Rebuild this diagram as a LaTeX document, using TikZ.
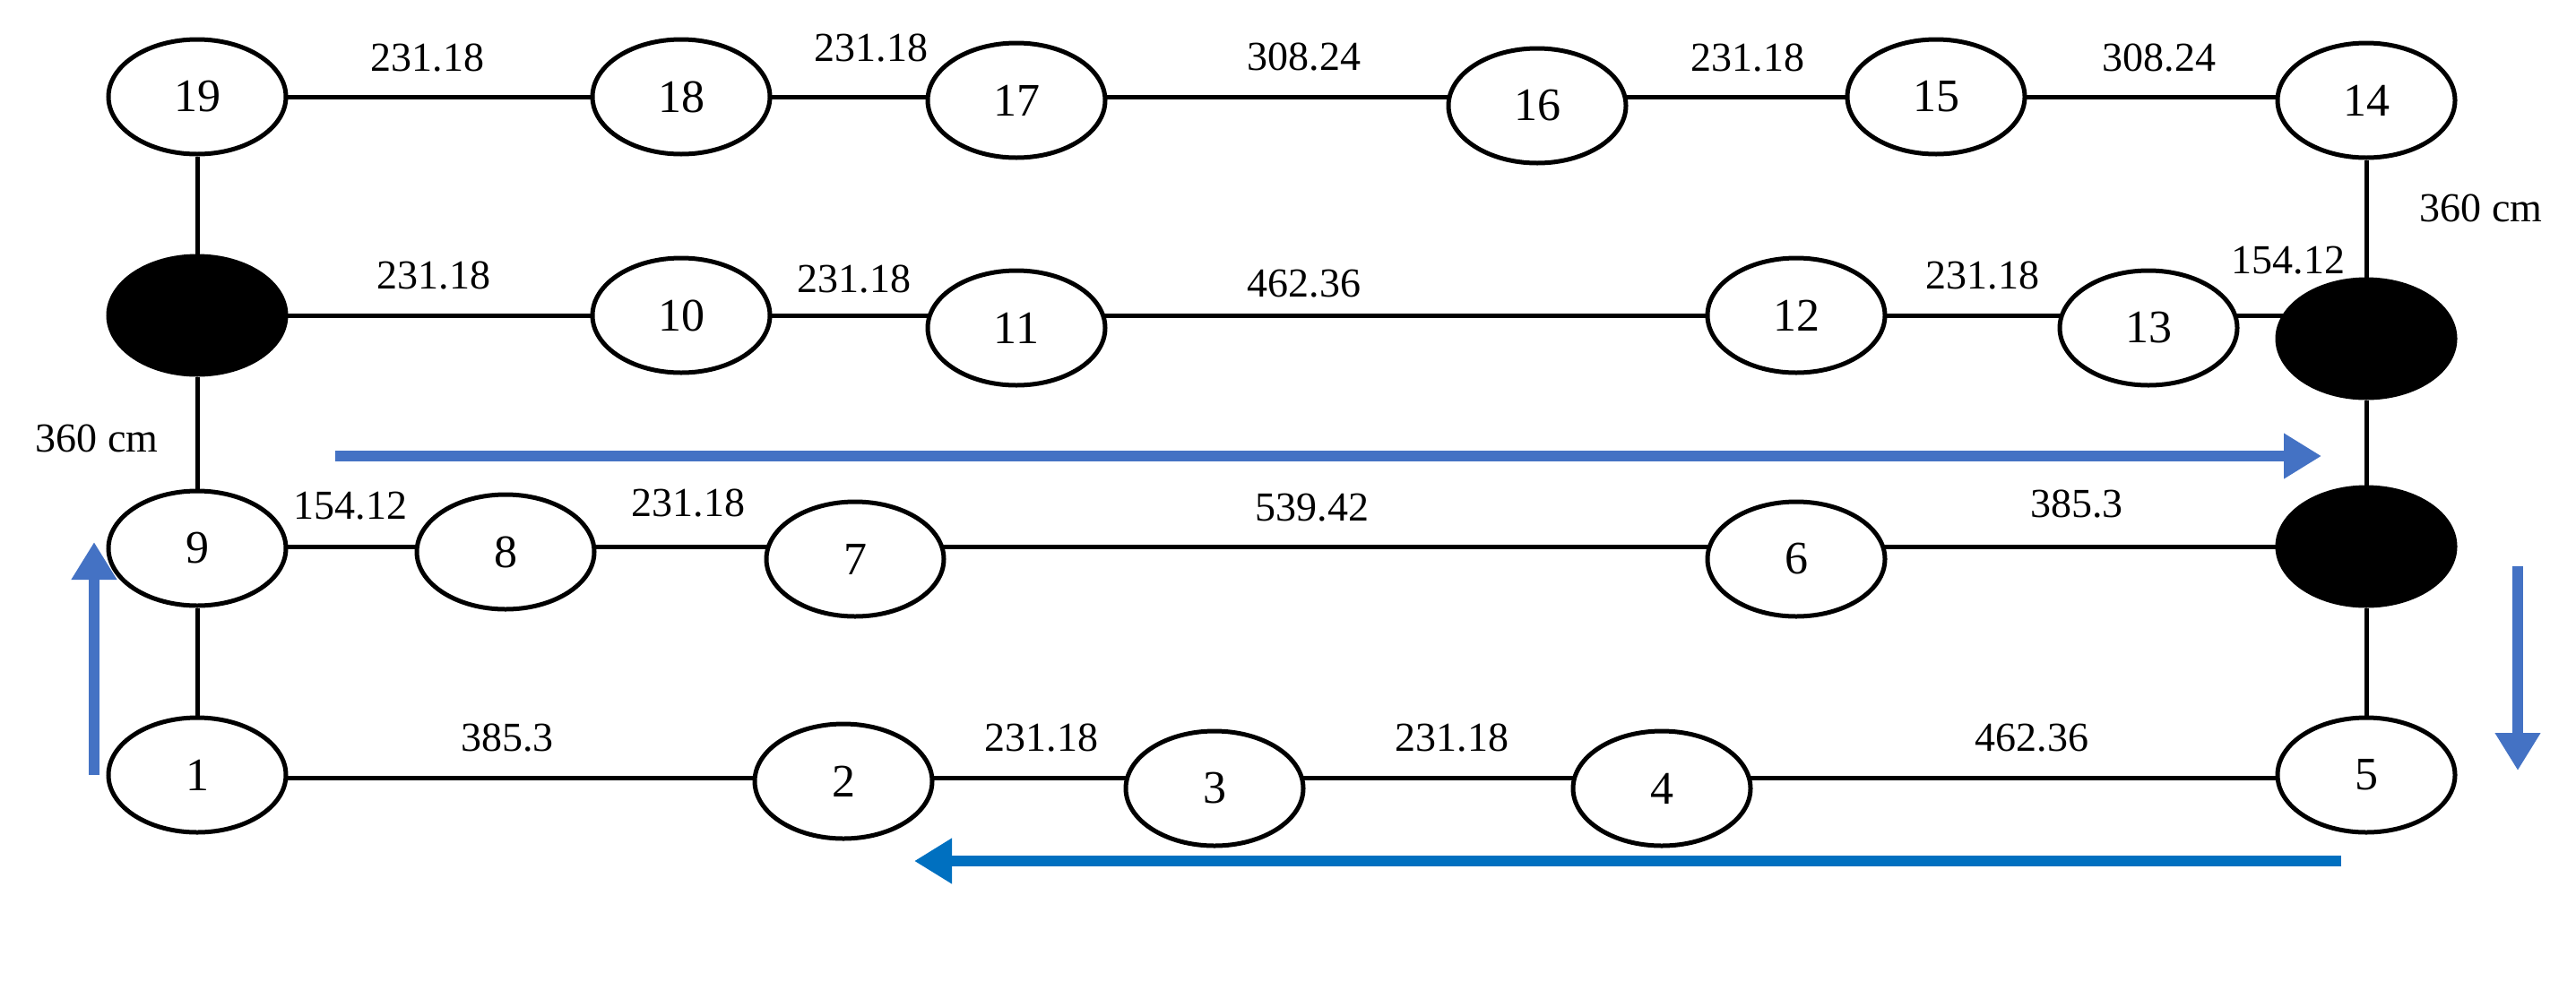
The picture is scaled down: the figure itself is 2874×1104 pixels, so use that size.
\documentclass[tikz,border=0pt]{standalone}
\usepackage{fontspec}
\setmainfont{Liberation Serif}
\usetikzlibrary{shapes.geometric,arrows.meta,backgrounds}
\definecolor{blueA}{HTML}{4472C4}
\definecolor{blueB}{HTML}{0070C0}
\begin{document}
\begin{tikzpicture}[x=1pt,y=-1pt,
  nd/.style={ellipse,draw,line width=5pt,minimum width=198pt,minimum height=128pt,inner sep=0pt,fill=white,font=\fontsize{52}{52}\selectfont},
  bk/.style={ellipse,draw,line width=5pt,fill=black,minimum width=198pt,minimum height=132pt,inner sep=0pt},
  lb/.style={font=\fontsize{46}{46}\selectfont},
  ln/.style={line width=5pt},
  flow/.style={line width=12pt,-{Triangle[length=42pt,width=48pt]}}]
\useasboundingbox (0,0) rectangle (2874,1104);
\coordinate (r1) at (0,108); \coordinate (r2) at (0,352);
\coordinate (r3) at (0,610); \coordinate (r4) at (0,868);
% nodes
\node[nd] (n19) at (220,108) {19};
\node[nd] (n18) at (760,108) {18};
\node[nd] (n17) at (1134,112) {17};
\node[nd] (n16) at (1715,118) {16};
\node[nd] (n15) at (2160,108) {15};
\node[nd] (n14) at (2640,112) {14};
\node[bk] (bl) at (220,352) {};
\node[nd] (n10) at (760,352) {10};
\node[nd] (n11) at (1134,366) {11};
\node[nd] (n12) at (2004,352) {12};
\node[nd] (n13) at (2397,366) {13};
\node[bk] (br1) at (2640,378) {};
\node[bk] (br2) at (2640,610) {};
\node[nd] (n9) at (220,612) {9};
\node[nd] (n8) at (564,616) {8};
\node[nd] (n7) at (954,624) {7};
\node[nd] (n6) at (2004,624) {6};
\node[nd] (n1) at (220,865) {1};
\node[nd] (n2) at (941,872) {2};
\node[nd] (n3) at (1355,880) {3};
\node[nd] (n4) at (1854,880) {4};
\node[nd] (n5) at (2640,865) {5};
% connectors
\begin{scope}[on background layer]
\draw[ln] (n19) -- (bl); \draw[ln] (bl) -- (n9); \draw[ln] (n9) -- (n1);
\draw[ln] (n14) -- (br1); \draw[ln] (br1) -- (br2); \draw[ln] (br2) -- (n5);
\draw[ln] (n19 |- r1) -- (n18 |- r1); \draw[ln] (n18 |- r1) -- (n17 |- r1); \draw[ln] (n17 |- r1) -- (n16 |- r1); \draw[ln] (n16 |- r1) -- (n15 |- r1); \draw[ln] (n15 |- r1) -- (n14 |- r1);
\draw[ln] (bl |- r2) -- (n10 |- r2); \draw[ln] (n10 |- r2) -- (n11 |- r2); \draw[ln] (n11 |- r2) -- (n12 |- r2); \draw[ln] (n12 |- r2) -- (n13 |- r2); \draw[ln] (n13 |- r2) -- (br1 |- r2);
\draw[ln] (n9 |- r3) -- (n8 |- r3); \draw[ln] (n8 |- r3) -- (n7 |- r3); \draw[ln] (n7 |- r3) -- (n6 |- r3); \draw[ln] (n6 |- r3) -- (br2 |- r3);
\draw[ln] (n1 |- r4) -- (n2 |- r4); \draw[ln] (n2 |- r4) -- (n3 |- r4); \draw[ln] (n3 |- r4) -- (n4 |- r4); \draw[ln] (n4 |- r4) -- (n5 |- r4);
\end{scope}
% labels
\node[lb] (l1) at (477,65) {231.18};
\node[lb] (l2) at (972,54) {231.18};
\node[lb] (l3) at (1455,64) {308.24};
\node[lb] (l4) at (1950,65) {231.18};
\node[lb] (l5) at (2409,65) {308.24};
\node[lb] (l6) at (484,308) {231.18};
\node[lb] (l7) at (953,312) {231.18};
\node[lb] (l8) at (1455,317) {462.36};
\node[lb] (l9) at (2212,308) {231.18};
\node[lb] (l10) at (2553,291) {154.12};
\node[lb] (l11) at (2768,232) {360 cm};
\node[lb] (l12) at (108,489) {360 cm};
\node[lb] (l13) at (391,565) {154.12};
\node[lb] (l14) at (768,562) {231.18};
\node[lb] (l15) at (1464,567) {539.42};
\node[lb] (l16) at (2317,563) {385.3};
\node[lb] (l17) at (566,824) {385.3};
\node[lb] (l18) at (1162,824) {231.18};
\node[lb] (l19) at (1620,824) {231.18};
\node[lb] (l20) at (2267,824) {462.36};
% flow arrows
\coordinate (a1s) at (374,509); \coordinate (a1e) at (2590,509);
\coordinate (a2s) at (105,865); \coordinate (a2e) at (105,605);
\coordinate (a3s) at (2809,632); \coordinate (a3e) at (2809,860);
\coordinate (a4s) at (2612,961); \coordinate (a4e) at (1020,961);
\draw[flow,blueA] (a1s) -- (a1e);
\draw[flow,blueA] (a2s) -- (a2e);
\draw[flow,blueA] (a3s) -- (a3e);
\draw[flow,blueB] (a4s) -- (a4e);
\end{tikzpicture}
\end{document}
